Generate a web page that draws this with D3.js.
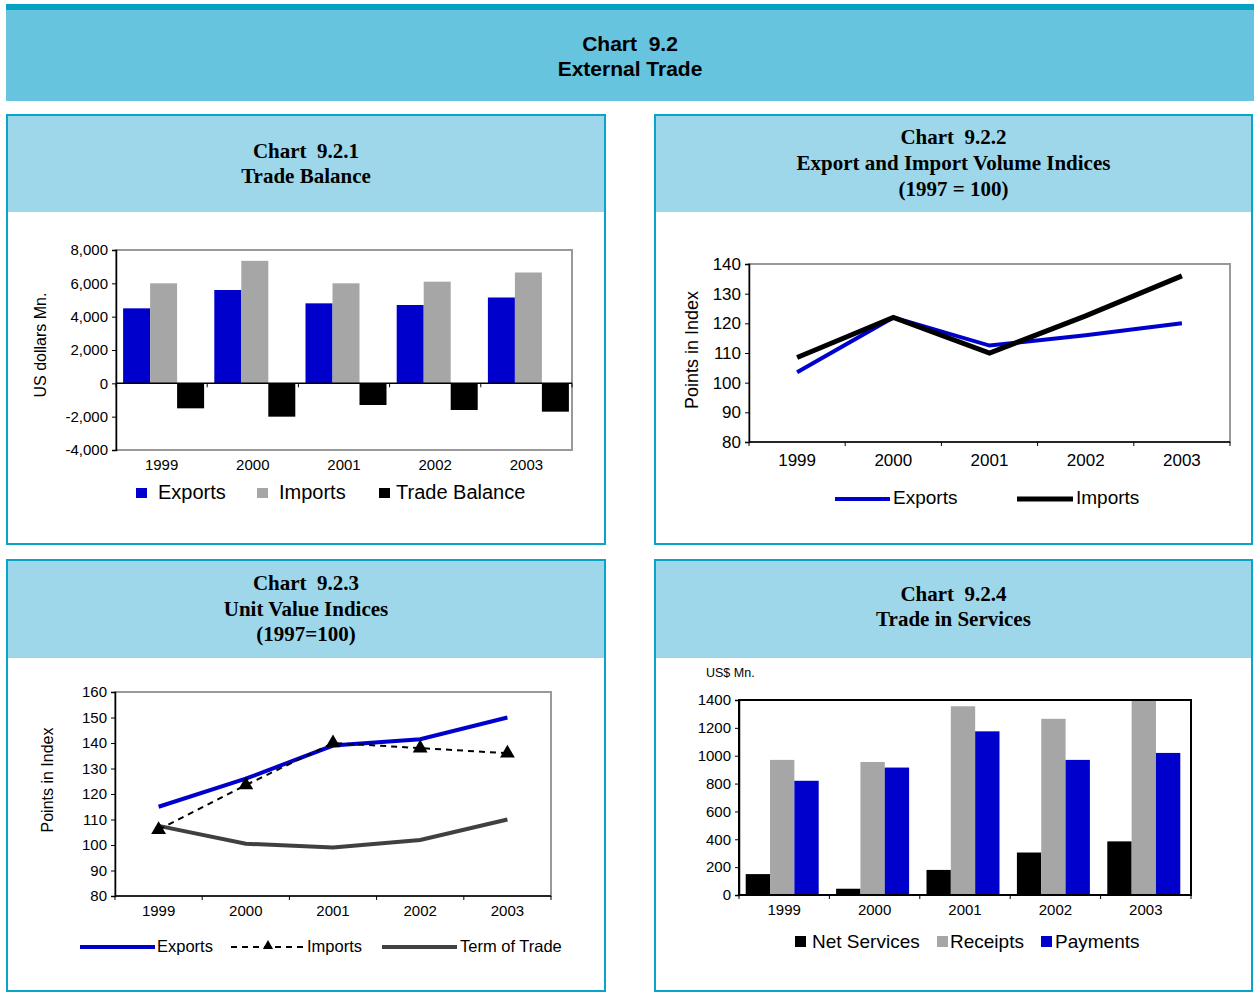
<!DOCTYPE html>
<html><head><meta charset="utf-8">
<script src="https://cdn.jsdelivr.net/npm/d3@7"></script>
<style>
html,body{margin:0;padding:0;background:#fff;}
text{font-family:"Liberation Sans",Arial,sans-serif;white-space:pre;}
.serif{font-family:"Liberation Serif","Times New Roman",serif;font-weight:bold;}
</style></head>
<body>
<script>
// ---------- DATA ----------
const years = ["1999","2000","2001","2002","2003"];
// Chart 9.2.1 Trade Balance (US$ Mn.)
const tbExports = [4500, 5600, 4800, 4700, 5150];
const tbImports = [6000, 7350, 6000, 6100, 6650];
const tbBalance = [-1500, -2000, -1300, -1600, -1700];
const tbTicks = [-4000, -2000, 0, 2000, 4000, 6000, 8000];
// Chart 9.2.2 Volume indices
const volExports = [103.5, 122, 112.5, 116, 120];
const volImports = [108.5, 122, 110, 122.5, 136];
const volTicks = [80, 90, 100, 110, 120, 130, 140];
// Chart 9.2.3 Unit value indices
const uvExports = [115, 126, 139, 141.5, 150];
const uvImports = [106, 123.5, 140, 138, 136];
const uvTerms = [107.5, 100.5, 99, 102, 110];
const uvTicks = [80, 90, 100, 110, 120, 130, 140, 150, 160];
// Chart 9.2.4 Trade in services (US$ Mn.)
const svNet = [150, 45, 180, 305, 385];
const svReceipts = [970, 955, 1355, 1265, 1395];
const svPayments = [820, 915, 1175, 970, 1020];
const svTicks = [0, 200, 400, 600, 800, 1000, 1200, 1400];

const BLUE = "#0000CC", GREY = "#A6A6A6", BLACK = "#000000", DARK = "#404040";
const svg = d3.select("body").append("svg").attr("width", 1254).attr("height", 994);

// ---------- Banner ----------
svg.append("rect").attr("x", 6).attr("y", 4).attr("width", 1248).attr("height", 97).attr("fill", "#66C4DE");
svg.append("rect").attr("x", 6).attr("y", 4).attr("width", 1248).attr("height", 6).attr("fill", "#05A2C6");
svg.append("text").attr("x", 630).attr("y", 51).attr("text-anchor", "middle").attr("font-size", 21).attr("font-weight", "bold").text("Chart  9.2");
svg.append("text").attr("x", 630).attr("y", 76).attr("text-anchor", "middle").attr("font-size", 21).attr("font-weight", "bold").text("External Trade");

// ---------- Panels ----------
function panel(x, y, w, h, hh, lines, baselines) {
  svg.append("rect").attr("x", x + 1).attr("y", y + 1).attr("width", w - 2).attr("height", hh).attr("fill", "#9DD7E9");
  svg.append("rect").attr("x", x).attr("y", y).attr("width", w).attr("height", h)
    .attr("fill", "none").attr("stroke", "#0AA3C9").attr("stroke-width", 2);
  lines.forEach((t, i) => svg.append("text").attr("class", "serif").attr("x", x + w / 2).attr("y", baselines[i])
    .attr("text-anchor", "middle").attr("font-size", 21).text(t));
}
panel(7, 115, 598, 429, 96, ["Chart  9.2.1", "Trade Balance"], [158, 183]);
panel(655, 115, 597, 429, 96, ["Chart  9.2.2", "Export and Import Volume Indices", "(1997 = 100)"], [144, 170, 196]);
panel(7, 560, 598, 431, 97, ["Chart  9.2.3", "Unit Value Indices", "(1997=100)"], [590, 616, 641]);
panel(655, 560, 597, 431, 97, ["Chart  9.2.4", "Trade in Services"], [601, 626]);

// ---------- helpers ----------
function frame(x0, x1, y0, y1, color, sw) {
  svg.append("rect").attr("x", x0).attr("y", y0).attr("width", x1 - x0).attr("height", y1 - y0)
    .attr("fill", "none").attr("stroke", color).attr("stroke-width", sw);
}
function yAxis(y, x0, ticks, fmt, fs) {
  const g = svg.append("g").attr("transform", `translate(${x0},0)`)
    .call(d3.axisLeft(y).tickValues(ticks).tickFormat(fmt).tickSize(4).tickPadding(4));
  g.selectAll("text").attr("font-size", fs).attr("fill", "#000").attr("font-family", "Liberation Sans, Arial, sans-serif");
  g.selectAll("line,path").attr("stroke", "#000");
  g.select("path").attr("stroke-width", 1.5);
  return g;
}
function xCat(x, ax0, ax1, yLine, yLabel, fs) {
  const bounds = [ax0].concat(years.map(d => x(d) + x.bandwidth()));
  svg.append("line").attr("x1", ax0).attr("x2", ax1).attr("y1", yLine).attr("y2", yLine).attr("stroke", "#000").attr("stroke-width", 1.5);
  svg.selectAll(null).data(bounds).enter().append("line")
    .attr("x1", d => d).attr("x2", d => d).attr("y1", yLine).attr("y2", yLine + 4).attr("stroke", "#000");
  svg.selectAll(null).data(years).enter().append("text")
    .attr("x", d => x(d) + x.bandwidth() / 2).attr("y", yLabel).attr("text-anchor", "middle")
    .attr("font-size", fs).text(d => d);
}
function yTitle(t, x, y, fs) {
  svg.append("text").attr("transform", `translate(${x},${y}) rotate(-90)`).attr("text-anchor", "middle")
    .attr("font-size", fs).text(t);
}

// ---------- Chart 9.2.1 ----------
(function () {
  const X0 = 116, X1 = 572, Y0 = 250, Y1 = 450;
  const x = d3.scaleBand().domain(years).range([X0, X1]);
  const y = d3.scaleLinear().domain([-4000, 8000]).range([Y1, Y0]);
  const sub = d3.scaleBand().domain(["e", "i", "b"]).range([0, 81]);
  const off = (x.bandwidth() - 81) / 2 + 2;
  frame(X0, X1, Y0, Y1, "#999", 2);
  const series = [["e", tbExports, BLUE], ["i", tbImports, GREY], ["b", tbBalance, BLACK]];
  series.forEach(([k, vals, c]) => {
    svg.selectAll(null).data(vals).enter().append("rect")
      .attr("x", (d, i) => x(years[i]) + off + sub(k)).attr("width", sub.bandwidth())
      .attr("y", d => y(Math.max(0, d))).attr("height", d => Math.abs(y(d) - y(0))).attr("fill", c);
  });
  const fmt = d => (d < 0 ? "-" : "") + d3.format(",")(Math.abs(d));
  yAxis(y, X0, tbTicks, fmt, 15);
  xCat(x, X0, X1, y(0), 470, 15);
  yTitle("US dollars Mn.", 46, 345, 16);
  const leg = [["Exports", BLUE, 136, 158], ["Imports", GREY, 257, 279], ["Trade Balance", BLACK, 379, 396]];
  leg.forEach(([t, c, sx, tx]) => {
    svg.append("rect").attr("x", sx).attr("y", 488).attr("width", 11).attr("height", 10).attr("fill", c);
    svg.append("text").attr("x", tx).attr("y", 499).attr("font-size", 20).text(t);
  });
})();

// ---------- Chart 9.2.2 ----------
(function () {
  const X0 = 749, X1 = 1230, Y0 = 264, Y1 = 442;
  const x = d3.scaleBand().domain(years).range([X0, X1]);
  const y = d3.scaleLinear().domain([80, 140]).range([Y1, Y0]);
  frame(X0, X1, Y0, Y1, "#999", 2);
  const line = d3.line().x((d, i) => x(years[i]) + x.bandwidth() / 2).y(d => y(d));
  svg.append("path").attr("d", line(volExports)).attr("fill", "none").attr("stroke", BLUE).attr("stroke-width", 4);
  svg.append("path").attr("d", line(volImports)).attr("fill", "none").attr("stroke", BLACK).attr("stroke-width", 5);
  yAxis(y, X0, volTicks, d3.format("d"), 17);
  xCat(x, X0, X1, Y1, 466, 17);
  yTitle("Points in Index", 698, 350, 18);
  svg.append("line").attr("x1", 835).attr("x2", 890).attr("y1", 499).attr("y2", 499).attr("stroke", BLUE).attr("stroke-width", 4);
  svg.append("text").attr("x", 893).attr("y", 504).attr("font-size", 19).text("Exports");
  svg.append("line").attr("x1", 1017).attr("x2", 1073).attr("y1", 499).attr("y2", 499).attr("stroke", BLACK).attr("stroke-width", 5);
  svg.append("text").attr("x", 1076).attr("y", 504).attr("font-size", 19).text("Imports");
})();

// ---------- Chart 9.2.3 ----------
(function () {
  const X0 = 115, X1 = 551, Y0 = 692, Y1 = 896;
  const x = d3.scaleBand().domain(years).range([X0, X1]);
  const y = d3.scaleLinear().domain([80, 160]).range([Y1, Y0]);
  frame(X0, X1, Y0, Y1, "#999", 2);
  const line = d3.line().x((d, i) => x(years[i]) + x.bandwidth() / 2).y(d => y(d));
  svg.append("path").attr("d", line(uvTerms)).attr("fill", "none").attr("stroke", DARK).attr("stroke-width", 4);
  svg.append("path").attr("d", line(uvExports)).attr("fill", "none").attr("stroke", BLUE).attr("stroke-width", 4);
  svg.append("path").attr("d", line(uvImports)).attr("fill", "none").attr("stroke", BLACK).attr("stroke-width", 2).attr("stroke-dasharray", "6,5");
  const tri = d3.symbol().type(d3.symbolTriangle).size(95);
  svg.selectAll(null).data(uvImports).enter().append("path").attr("d", tri)
    .attr("transform", (d, i) => `translate(${x(years[i]) + x.bandwidth() / 2},${y(d)})`).attr("fill", BLACK);
  yAxis(y, X0, uvTicks, d3.format("d"), 15);
  xCat(x, X0, X1, Y1, 916, 15);
  yTitle("Points in Index", 53, 780, 16);
  svg.append("line").attr("x1", 80).attr("x2", 155).attr("y1", 947).attr("y2", 947).attr("stroke", BLUE).attr("stroke-width", 4);
  svg.append("text").attr("x", 157).attr("y", 952).attr("font-size", 16.5).text("Exports");
  svg.append("line").attr("x1", 231).attr("x2", 305).attr("y1", 947).attr("y2", 947).attr("stroke", BLACK).attr("stroke-width", 2).attr("stroke-dasharray", "6,5");
  svg.append("path").attr("d", d3.symbol().type(d3.symbolTriangle).size(45)).attr("transform", "translate(268,946)");
  svg.append("text").attr("x", 307).attr("y", 952).attr("font-size", 16.5).text("Imports");
  svg.append("line").attr("x1", 382).attr("x2", 457).attr("y1", 947).attr("y2", 947).attr("stroke", DARK).attr("stroke-width", 4);
  svg.append("text").attr("x", 460).attr("y", 952).attr("font-size", 16.5).text("Term of Trade");
})();

// ---------- Chart 9.2.4 ----------
(function () {
  const X0 = 739, X1 = 1191, Y0 = 700, Y1 = 895;
  const x = d3.scaleBand().domain(years).range([X0, X1]);
  const y = d3.scaleLinear().domain([0, 1400]).range([Y1, Y0]);
  const sub = d3.scaleBand().domain(["n", "r", "p"]).range([0, 73]);
  const off = (x.bandwidth() - 73) / 2 - 2;
  const series = [["n", svNet, BLACK], ["r", svReceipts, GREY], ["p", svPayments, BLUE]];
  series.forEach(([k, vals, c]) => {
    svg.selectAll(null).data(vals).enter().append("rect")
      .attr("x", (d, i) => x(years[i]) + off + sub(k)).attr("width", sub.bandwidth())
      .attr("y", d => y(d)).attr("height", d => y(0) - y(d)).attr("fill", c);
  });
  frame(X0, X1, Y0, Y1, "#000", 2);
  yAxis(y, X0, svTicks, d3.format("d"), 15);
  xCat(x, X0, X1, Y1, 915, 15);
  svg.append("text").attr("x", 706).attr("y", 677).attr("font-size", 12.5).text("US$ Mn.");
  const leg = [["Net Services", BLACK, 795, 812], ["Receipts", GREY, 937, 950], ["Payments", BLUE, 1041, 1055]];
  leg.forEach(([t, c, sx, tx]) => {
    svg.append("rect").attr("x", sx).attr("y", 936).attr("width", 11).attr("height", 11).attr("fill", c);
    svg.append("text").attr("x", tx).attr("y", 948).attr("font-size", 19).text(t);
  });
})();
</script>
</body></html>
